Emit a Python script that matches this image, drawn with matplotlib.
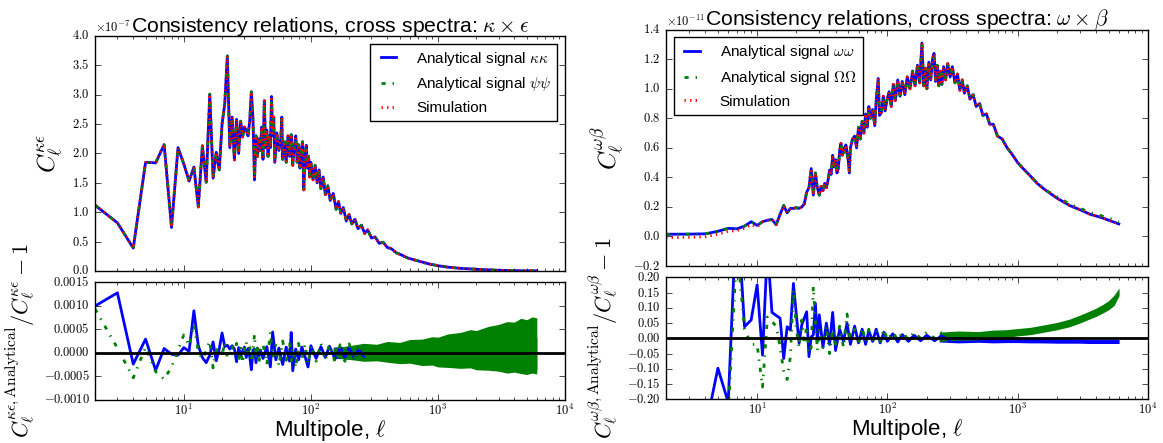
import numpy as np
import matplotlib
matplotlib.use("Agg")
import matplotlib.pyplot as plt

plt.style.use("classic")
plt.rcParams["font.family"] = "serif"
plt.rcParams["font.serif"] = ["cmr10"]
plt.rcParams["mathtext.fontset"] = "cm"
plt.rcParams["axes.formatter.use_mathtext"] = True
plt.rcParams["axes.formatter.limits"] = (-5, 5)
plt.rcParams["figure.facecolor"] = "white"
plt.rcParams["savefig.facecolor"] = "white"

SANS = "Liberation Sans"

# ---- left column: kappa x epsilon (spectrum in units of 1e-7) ----
ell_top_l = [2, 3, 4, 5, 6, 7, 8, 9, 10, 11, 12, 13, 14, 15, 16, 17, 18, 19, 20, 21,
             22, 23, 24, 25, 26, 27, 28, 29, 30, 31, 32, 33, 34, 35, 36, 37, 38, 39, 40, 41,
             42, 43, 44, 45, 46, 47, 48, 49, 50, 51, 52,
             54, 56, 58, 59, 60,
             62, 64, 66, 68, 70, 72, 74, 76, 78, 80, 82, 84, 86, 88, 90, 92, 94, 96, 98, 100,
             104, 108, 112, 116, 120, 125, 130, 136, 142, 150,
             158, 165, 172, 180, 190, 200, 210, 222, 235, 250,
             265, 280, 300, 320, 345, 370, 400, 430, 470, 520,
             580, 650, 730, 850, 1000, 1200, 1500, 2000, 2500, 3000,
             4000, 5000, 6000]
cl_ke = [1.12, 0.82, 0.39, 1.85, 1.84, 2.15, 0.74, 2.10, 1.82, 1.53, 1.77, 1.09, 2.13, 1.51, 3.01, 1.58, 2.02, 1.72, 2.50, 2.85,
         3.66, 2.10, 2.62, 1.89, 2.58, 2.00, 2.55, 2.28, 2.45, 2.40, 2.30, 2.55, 3.05, 2.60, 1.55, 2.30, 1.95, 2.25, 2.05, 2.45,
         1.90, 2.90, 2.10, 2.40, 1.95, 2.30, 2.10, 2.97, 2.30, 2.62, 1.85,
         2.35, 2.05, 2.25, 2.62, 1.90,
         2.20, 1.85, 2.30, 1.95, 2.32, 1.80, 2.10, 2.30, 1.85, 2.15, 1.75, 2.05, 2.20, 1.38, 2.00, 2.14, 1.75, 1.95, 1.60, 1.85,
         1.55, 1.80, 1.50, 1.72, 1.40, 1.60, 1.30, 1.45, 1.20, 1.32,
         1.05, 1.18, 0.98, 1.08, 0.85, 0.96, 0.80, 0.88, 0.72, 0.78,
         0.64, 0.70, 0.56, 0.58, 0.47, 0.49, 0.40, 0.38, 0.31, 0.27,
         0.22, 0.19, 0.16, 0.12, 0.09, 0.065, 0.045, 0.03, 0.02, 0.012,
         0.006, 0.003, 0.002]

# residuals, units of 1e-4
ell_res_l = [2, 3, 4, 5, 6, 7, 8, 9, 10, 11, 12, 13, 14, 15, 16, 17, 18, 19, 20, 21,
             22, 23, 24, 25, 26, 27, 28, 29, 30, 31, 32, 33, 34, 35, 36, 37, 38, 39, 40,
             42, 45, 48, 50, 53, 56, 60, 64, 68, 70, 72, 76, 80, 85, 90, 95, 100,
             110, 120, 130, 140, 155, 170, 185, 200, 220, 240, 260]
res_kk = [9.9, 12.7, -2.4, 2.9, -3.7, 0.9, -0.3, -0.5, 1.1, 0.3, 8.9, 1.5, -1.0, -2.1, -0.5, 2.3, -1.7, 0.8, 4.2, 1.3,
          1.6, 0.8, 1.5, 0.8, -1.9, 1.1, -0.6, 0.4, 1.2, -1.0, 0.9, -0.8, -3.6, 0.5, 0.8, -2.1, 1.0, -0.7, 0.6,
          -1.2, 1.3, -3.0, 4.4, -1.5, 1.0, -2.5, 1.2, -1.8, 4.3, -3.8, 0.8, -1.5, 1.2, -0.8, -3.0, 1.5,
          -1.2, 1.3, -1.0, 1.4, -1.3, 1.2, -1.0, 1.1, -1.2, 1.0, -0.9]
res_pp = [9.3, 1.0, -5.3, 1.2, -4.0, -5.6, -3.0, 0.6, 3.8, 1.5, 6.0, 0.2, -1.3, 0.4, 2.5, -3.2, 0.5, 1.2, -0.6, 2.2,
          -1.0, -0.7, 1.6, -0.5, 2.0, -1.5, 1.0, -2.2, 0.8, 2.4, -1.0, 1.5, -2.0, 0.3, 3.9, -1.2, 1.0, -2.4, 0.5,
          1.8, -2.5, 4.4, -1.0, 1.6, -2.8, 2.5, -1.6, 2.2, -2.0, 1.0, -3.2, 2.0, -1.5, 1.8, -2.4, 1.6,
          -1.8, 2.0, -1.6, 1.8, -2.0, 1.7, -1.8, 1.9, -1.7, 2.0, -1.9]

# dense high-ell envelopes of the residual scatter, units of 1e-4
ell_band_l = [150, 200, 260, 330, 400, 500, 600, 750, 900, 1000, 1200, 1500, 1800, 2000,
              2500, 3000, 3500, 4000, 4500, 5000, 5500, 6000]
kk_band_hi = [1.2, 1.4, 1.3, 1.6, 1.8, 1.7, 2.0, 2.2, 2.1, 2.4, 2.5, 2.6, 2.6, 2.8,
              2.9, 3.0, 3.1, 3.2, 3.2, 3.3, 3.3, 3.3]
kk_band_lo = [-1.2, -1.3, -1.4, -1.5, -1.7, -1.9, -2.0, -2.3, -2.4, -2.5, -2.7, -2.8, -2.9, -3.0,
              -3.2, -3.3, -3.4, -3.5, -3.5, -3.6, -3.6, -3.6]
pp_band_hi = [1.0, 1.5, 2.0, 1.8, 2.4, 2.2, 2.8, 2.9, 3.4, 3.3, 4.0, 4.3, 4.9, 4.7,
              5.6, 6.0, 6.6, 6.5, 7.3, 7.0, 7.6, 7.4]
pp_band_lo = [-1.0, -1.4, -1.8, -1.7, -2.0, -2.3, -2.2, -2.7, -2.6, -3.0, -3.1, -3.3, -3.2, -3.6,
              -3.7, -3.9, -4.3, -4.1, -4.4, -4.6, -4.3, -4.5]

# ---- right column: omega x beta (spectrum in units of 1e-11) ----
ell_top_r = [2, 3, 4, 5, 6, 7, 8, 9, 10, 11, 12, 13, 14, 15, 16, 17, 18, 19, 20, 21,
             22, 23, 24, 25, 26, 27, 28, 29, 30, 31, 32, 33, 34, 35, 36, 37, 38, 39, 40, 41,
             42, 43, 44, 45, 46, 47, 48,
             50, 51, 52, 54, 56, 58, 60,
             62, 64, 66, 68, 70, 72, 74, 77, 80, 82,
             85, 87, 90, 93, 96, 99, 103, 107, 111, 115,
             120, 125, 130, 136, 142, 149, 156, 163, 170, 177,
             184, 190, 196, 201, 208, 215, 222, 228, 234, 241,
             248, 254, 262, 270, 280, 290, 303, 315, 330, 345,
             360, 375, 390, 410, 430, 455, 480, 510, 540, 575,
             610, 650, 700, 760, 830, 900, 1000, 1100, 1250, 1410,
             1600, 2000, 2500, 3030, 3600, 4330, 5000, 5970]
cl_wb = [0.015, 0.016, 0.018, 0.035, 0.055, 0.052, 0.07, 0.10, 0.075, 0.10, 0.11, 0.115, 0.08, 0.15, 0.21, 0.16, 0.19, 0.19, 0.195, 0.19,
         0.20, 0.22, 0.30, 0.33, 0.46, 0.28, 0.43, 0.33, 0.28, 0.34, 0.31, 0.36, 0.33, 0.38, 0.45, 0.42, 0.55, 0.47, 0.52, 0.43,
         0.46, 0.58, 0.63, 0.55, 0.60, 0.57, 0.62,
         0.52, 0.43, 0.60, 0.66, 0.68, 0.60, 0.74,
         0.66, 0.78, 0.70, 0.83, 0.74, 0.88, 0.80, 0.86, 0.75, 0.92,
         1.07, 0.82, 0.84, 0.95, 0.85, 0.92, 0.98, 0.88, 1.03, 0.92,
         1.06, 0.95, 1.05, 0.96, 1.08, 1.00, 1.12, 1.02, 1.16, 1.04,
         1.31, 1.02, 1.14, 1.00, 1.18, 1.06, 1.20, 1.24, 1.05, 1.16,
         1.02, 1.12, 1.03, 1.15, 1.06, 1.17, 1.08, 1.15, 1.04, 1.10,
         0.99, 1.06, 0.97, 1.02, 0.93, 0.96, 0.88, 0.90, 0.82, 0.83,
         0.76, 0.76, 0.68, 0.66, 0.60, 0.56, 0.50, 0.46, 0.41, 0.36,
         0.32, 0.26, 0.21, 0.18, 0.15, 0.13, 0.11, 0.085]
sim_low_r = [-0.008, -0.006, -0.002, 0.015, 0.035, 0.04, 0.055, 0.08, 0.065]   # ell 2..10
oo_tail_r = [0.27, 0.22, 0.19, 0.162, 0.142, 0.125, 0.097]                   # ell 2000..5970

ell_res_r = [2, 3, 4, 5, 6, 7, 8, 9, 10, 11, 12, 13, 14, 15, 16, 17, 18, 19, 20, 21,
             22, 23, 24, 25, 26, 27, 28, 29, 30, 32, 34, 36, 38, 40, 43, 46, 49, 52, 56, 60,
             64, 68, 72, 77, 82, 88, 94, 100, 110, 120, 130, 145, 160, 180, 200, 230, 260, 300]
res_ww = [-0.6, -0.45, -0.3, -0.098, -0.21, 0.45, 0.038, 0.06, 0.175, -0.055, 0.30, 0.085, 0.075, 0.066, -0.066, 0.038, 0.027, 0.18, 0.077, -0.016,
          0.044, 0.066, 0.087, -0.06, 0.005, 0.011, 0.115, -0.01, 0.077, -0.03, 0.05, -0.02, 0.085, -0.04, 0.03, -0.01, 0.05, -0.02, 0.04, -0.015,
          0.03, -0.02, 0.025, -0.01, 0.03, -0.015, 0.02, -0.01, 0.015, -0.012, 0.012, -0.01, 0.01, -0.008, 0.01, -0.008, 0.008, -0.006]
res_OO = [-0.6, -0.5, -0.4, -0.3, -0.25, 0.30, 0.03, -0.02, -0.02, -0.16, 0.07, 0.055, 0.04, -0.027, -0.11, -0.135, -0.06, 0.16, 0.03, -0.03,
          0.06, -0.02, 0.04, -0.05, -0.03, 0.17, 0.06, -0.04, 0.03, -0.03, 0.04, -0.05, 0.03, -0.02, 0.04, -0.03, 0.08, -0.01, 0.03, -0.02,
          0.035, -0.01, 0.03, -0.015, 0.025, -0.01, 0.03, -0.005, 0.02, -0.005, 0.02, -0.004, 0.02, 0.0, 0.02, 0.0, 0.018, 0.002]

ell_band_r = [250, 350, 500, 650, 800, 1000, 1250, 1500, 2000, 2500, 3000, 3500, 4000, 4500, 5000, 5500, 6000]
ww_band_hi = [0.012, 0.008, 0.010, 0.006, 0.006, 0.004, 0.002, 0.000, -0.002, -0.003, -0.003, -0.004, -0.004, -0.004, -0.004, -0.004, -0.004]
ww_band_lo = [-0.012, -0.015, -0.013, -0.015, -0.014, -0.014, -0.015, -0.015, -0.016, -0.016, -0.016, -0.017, -0.017, -0.017, -0.017, -0.017, -0.017]
OO_band_hi = [0.020, 0.024, 0.022, 0.027, 0.028, 0.032, 0.036, 0.042, 0.052, 0.063, 0.076, 0.088, 0.099, 0.111, 0.124, 0.142, 0.165]
OO_band_lo = [-0.010, -0.006, -0.005, -0.002, 0.002, 0.008, 0.012, 0.018, 0.028, 0.038, 0.050, 0.062, 0.072, 0.083, 0.094, 0.108, 0.140]

fig = plt.figure(figsize=(11.63, 4.43), dpi=100)
ax_tl = fig.add_axes([0.0817, 0.3883, 0.4041, 0.5305])
ax_bl = fig.add_axes([0.0817, 0.0971, 0.4041, 0.2664])
ax_tr = fig.add_axes([0.5727, 0.3995, 0.4144, 0.5334])
ax_br = fig.add_axes([0.5727, 0.0986, 0.4144, 0.2754])

lw = 2.0

# top left
cl_l = np.array(cl_ke) * 1e-7
ax_tl.plot(ell_top_l, cl_l, "b-", lw=lw, label=r"Analytical signal $\kappa\kappa$")
ax_tl.plot(ell_top_l, cl_l, "g-.", lw=lw, label=r"Analytical signal $\psi\psi$")
ax_tl.plot(ell_top_l, cl_l, "r:", lw=lw, label="Simulation")
ax_tl.set_ylim(0, 4e-7)
ax_tl.set_ylabel(r"$C_\ell^{\kappa\epsilon}$", fontsize=18)
ax_tl.set_title(r"Consistency relations, cross spectra: $\kappa \times \epsilon$",
                fontsize=15.3, fontfamily=SANS, pad=3)
ax_tl.legend(loc="upper right", prop={"family": SANS, "size": 11},
             handlelength=1.6, handletextpad=1.0)

# bottom left
ax_bl.fill_between(ell_band_l, np.array(kk_band_lo) * 1e-4, np.array(kk_band_hi) * 1e-4,
                   color="b", lw=0)
ax_bl.plot(ell_res_l, np.array(res_kk) * 1e-4, "b-", lw=lw)
ax_bl.fill_between(ell_band_l, np.array(pp_band_lo) * 1e-4, np.array(pp_band_hi) * 1e-4,
                   color="g", lw=0)
ax_bl.plot(ell_res_l, np.array(res_pp) * 1e-4, "g-.", lw=lw)
ax_bl.axhline(0, color="k", lw=2, zorder=5)
ax_bl.set_ylim(-0.001, 0.0015)
ax_bl.set_ylabel(r"$C_\ell^{\kappa\epsilon,\mathrm{Analytical}}/C_\ell^{\kappa\epsilon}-1$", fontsize=16)
ax_bl.set_xlabel(r"Multipole, $\ell$", fontsize=16, fontfamily=SANS, labelpad=0)

# top right
cl_r = np.array(cl_wb) * 1e-11
cl_r_sim = np.array(sim_low_r + cl_wb[len(sim_low_r):]) * 1e-11
cl_r_oo = np.array(cl_wb[:-len(oo_tail_r)] + oo_tail_r) * 1e-11
ax_tr.plot(ell_top_r, cl_r, "b-", lw=lw, label=r"Analytical signal $\omega\omega$")
ax_tr.plot(ell_top_r, cl_r_oo, "g-.", lw=lw, label=r"Analytical signal $\Omega\Omega$")
ax_tr.plot(ell_top_r, cl_r_sim, "r:", lw=lw, label="Simulation")
ax_tr.set_ylim(-0.2e-11, 1.4e-11)
ax_tr.set_ylabel(r"$C_\ell^{\omega\beta}$", fontsize=18)
ax_tr.set_title(r"Consistency relations, cross spectra: $\omega \times \beta$",
                fontsize=15.3, fontfamily=SANS, pad=3)
ax_tr.legend(loc="upper left", prop={"family": SANS, "size": 11},
             handlelength=1.6, handletextpad=1.0)

# bottom right
ax_br.fill_between(ell_band_r, ww_band_lo, ww_band_hi, color="b", lw=0)
ax_br.plot(ell_res_r, res_ww, "b-", lw=lw)
ax_br.fill_between(ell_band_r, OO_band_lo, OO_band_hi, color="g", lw=0)
ax_br.plot(ell_res_r, res_OO, "g-.", lw=lw)
ax_br.axhline(0, color="k", lw=2, zorder=5)
ax_br.set_ylim(-0.2, 0.2)
ax_br.set_yticks(np.arange(-0.2, 0.201, 0.05))
ax_br.set_ylabel(r"$C_\ell^{\omega\beta,\mathrm{Analytical}}/C_\ell^{\omega\beta}-1$", fontsize=16)
ax_br.set_xlabel(r"Multipole, $\ell$", fontsize=16, fontfamily=SANS, labelpad=0)

for ax in (ax_tl, ax_bl, ax_tr, ax_br):
    ax.set_xscale("log")
    ax.set_xlim(2, 1e4)
    ax.tick_params(labelsize=9)
    ax.tick_params(axis="x", which="both", pad=2)
    ax.yaxis.get_offset_text().set_fontsize(9)
for ax in (ax_tl, ax_tr):
    ax.tick_params(labelbottom=False)

fig.savefig("out.png", dpi=100)
